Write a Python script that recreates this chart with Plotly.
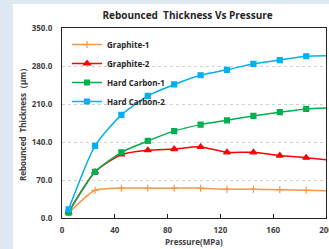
import plotly.graph_objects as go

pressure = [5, 25, 45, 65, 85, 105, 125, 145, 165, 185, 205]
graphite_1 = [9, 51, 55, 55, 55, 55, 53, 53, 52, 51, 50]
graphite_2 = [11, 85, 117, 125, 127, 131, 121, 121, 115, 111, 106]
hard_carbon_1 = [10, 85, 121, 142, 160, 172, 180, 188, 195, 201, 203]
hard_carbon_2 = [16, 133, 190, 225, 246, 263, 273, 284, 291, 298, 299]
x_ticks = [0, 40, 80, 120, 160, 200]
y_ticks = [0, 70, 140, 210, 280, 350]

series = [
    ("Graphite-1", graphite_1, "#F79646", "cross-thin", 5),
    ("Graphite-2", graphite_2, "#FF0000", "triangle-up", 6),
    ("Hard Carbon-1", hard_carbon_1, "#00B050", "square", 5),
    ("Hard Carbon-2", hard_carbon_2, "#00B0F0", "square", 5),
]

fig = go.Figure()
for name, vals, color, sym, size in series:
    fig.add_trace(go.Scatter(
        x=pressure, y=vals, name=name, mode="lines+markers",
        line=dict(color=color, width=1.5, shape="spline", smoothing=0.6),
        marker=dict(color=color, symbol=sym, size=size,
                    line=dict(color=color, width=1.2)),
    ))

font_fam = "Open Sans, Liberation Sans, sans-serif"
W, H = 329, 249
L, R, T, B = 62, 3, 28, 31
pw, ph = W - L - R, H - T - B
title_font = dict(size=8, color="#404040", weight="bold")

fig.update_layout(
    width=W, height=H,
    margin=dict(l=L, r=R, t=T, b=B, autoexpand=False),
    paper_bgcolor="#DEE8F2",
    plot_bgcolor="white",
    font=dict(family=font_fam, size=8, color="#404040"),
    title=dict(text="<b>Rebounced  Thickness Vs Pressure</b>",
               x=0.57, xanchor="center", y=1 - 15 / H, yanchor="middle",
               font=dict(size=10, color="#262626")),
    showlegend=True,
    legend=dict(x=(67 - L) / pw, y=1 - (30 - T) / ph, xanchor="left", yanchor="top",
                bgcolor="rgba(0,0,0,0)", font=dict(size=8, color="#262626", weight="bold"),
                itemwidth=30, tracegroupgap=0),
    shapes=[dict(type="rect", xref="paper", yref="paper", layer="below",
                 x0=(13 - L) / pw, x1=1.2, y0=-0.3, y1=1 + (T - 4) / ph,
                 fillcolor="white", line=dict(width=0))],
    annotations=[
        dict(text="Rebounced  Thickness（μm）", xref="paper", yref="paper",
             x=(22 - L) / pw, y=0.5, textangle=-90, showarrow=False,
             xanchor="center", yanchor="middle", font=title_font),
        dict(text="Pressure(MPa)", xref="paper", yref="paper",
             x=0.5, y=-(241.5 - (H - B)) / ph, showarrow=False,
             xanchor="center", yanchor="middle", font=title_font),
    ],
)
fig.update_xaxes(
    automargin=False,
    range=[0, 200], tickvals=x_ticks, ticks="inside", ticklen=4, tickcolor="#222",
    ticklabeloverflow="allow", ticklabelstandoff=4,
    showline=True, linecolor="#222", linewidth=1.2, mirror=True, showgrid=False,
    zeroline=False,
    tickfont=dict(size=8, color="#404040", weight="bold"),
)
fig.update_yaxes(
    automargin=False,
    range=[0, 350], tickvals=y_ticks, tickformat=".1f",
    ticks="outside", ticklen=7, tickcolor="rgba(0,0,0,0)",
    showline=True, linecolor="#222", linewidth=1.2, mirror=True,
    showgrid=True, gridcolor="#D0D0D0", griddash="dot", gridwidth=1,
    zeroline=False,
    tickfont=dict(size=8, color="#404040", weight="bold"),
)

fig.write_html("out.html", config={"displayModeBar": False},
               post_script="document.body.style.margin='0';document.body.style.overflow='hidden';")
